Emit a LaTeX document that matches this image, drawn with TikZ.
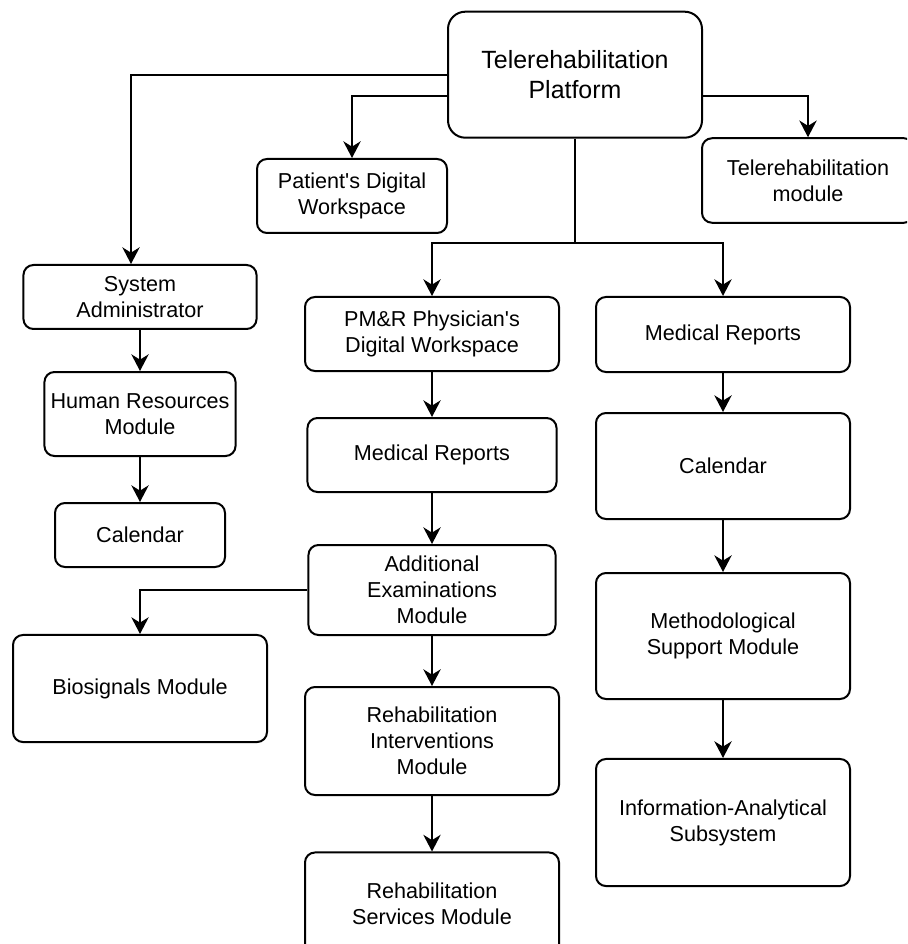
\documentclass[tikz,border=0pt]{standalone}
\usepackage{fontspec}
\setmainfont{Liberation Sans}
\usetikzlibrary{arrows.meta, positioning}
\definecolor{boxline}{HTML}{000000}
\definecolor{boxfill}{HTML}{FFFFFF}
\tikzset{
  modbox/.style  = {rectangle, rounded corners=7.5pt, draw=boxline, fill=boxfill,
                    line width=1.5pt, align=center, inner sep=2pt,
                    font=\fontsize{16.2}{19.5}\selectfont},
  rootbox/.style = {modbox, rounded corners=13pt, font=\fontsize{18.7}{23}\selectfont},
  flow/.style    = {-{Stealth[length=12.5pt, width=13pt, inset=4pt]}, line width=1.5pt, draw=boxline},
  busline/.style = {line width=1.5pt, draw=boxline},
}
\begin{document}
\begin{tikzpicture}[x=0.75pt, y=-0.75pt]
        \clip (0,0) rectangle (907,944);
        \fill[white] (0,0) rectangle (907,944);
        % top level
        \node[rootbox, minimum width=190.5pt, minimum height=94.5pt] (plat)    at (575,74.7)  {Telerehabilitation\\Platform};
        \node[modbox,  minimum width=142.5pt, minimum height=55.5pt] (patient) at (352,196)   {Patient\textquotesingle s Digital\\Workspace};
        \node[modbox,  minimum width=159pt,   minimum height=63.4pt] (telemod) at (808,180.5) {Telerehabilitation\\module};
        % left column
        \node[modbox, minimum width=174.8pt, minimum height=48pt]   (sysadm) at (140,297)   {System\\Administrator};
        \node[modbox, minimum width=143.3pt, minimum height=63pt]   (hr)     at (140,414)   {Human Resources\\Module};
        \node[modbox, minimum width=127.5pt, minimum height=48pt]   (calL)   at (140,535)   {Calendar};
        \node[modbox, minimum width=190.5pt, minimum height=80.3pt] (bio)    at (140,688.5) {Biosignals Module};
        % middle column
        \node[modbox, minimum width=190.5pt, minimum height=55.5pt] (pmr)    at (432,334)   {PM\&R Physician\textquotesingle s\\Digital Workspace};
        \node[modbox, minimum width=186.8pt, minimum height=55.5pt] (medM)   at (432,455)   {Medical Reports};
        \node[modbox, minimum width=185.3pt, minimum height=67.5pt] (addex)  at (432,590)   {Additional\\Examinations\\Module};
        \node[modbox, minimum width=190.5pt, minimum height=81pt]   (rint)   at (432,741)   {Rehabilitation\\Interventions\\Module};
        \node[modbox, minimum width=190.5pt, minimum height=77.3pt] (rserv)  at (432,904)   {Rehabilitation\\Services Module};
        % right column
        \node[modbox, minimum width=190.5pt, minimum height=56.3pt] (medR)   at (723,334.5) {Medical Reports};
        \node[modbox, minimum width=190.5pt, minimum height=79.5pt] (calR)   at (723,466)   {Calendar};
        \node[modbox, minimum width=190.5pt, minimum height=94.5pt] (meth)   at (723,636)   {Methodological\\Support Module};
        \node[modbox, minimum width=190.5pt, minimum height=95.3pt] (info)   at (723,822.5) {Information-Analytical\\Subsystem};
        % connectors
        \coordinate (fork) at (575,243.3);
        \draw[flow] (plat.west) -| ([xshift=-6.75pt]sysadm.north);
        \draw[flow] ([yshift=-15.75pt]plat.west) -| (patient.north);
        \draw[flow] ([yshift=-15.75pt]plat.east) -| (telemod.north);
        \draw[busline] (plat.south) -- (fork);
        \draw[flow] (fork) -| (pmr.north);
        \draw[flow] (fork) -| (medR.north);
        \draw[flow] (addex.west) -| (bio.north);
        \foreach \x/\y in {sysadm/hr, hr/calL, pmr/medM, medM/addex, addex/rint, rint/rserv, medR/calR, calR/meth, meth/info}{\draw[flow] (\x) -- (\y);}
    \end{tikzpicture}
\end{document}
